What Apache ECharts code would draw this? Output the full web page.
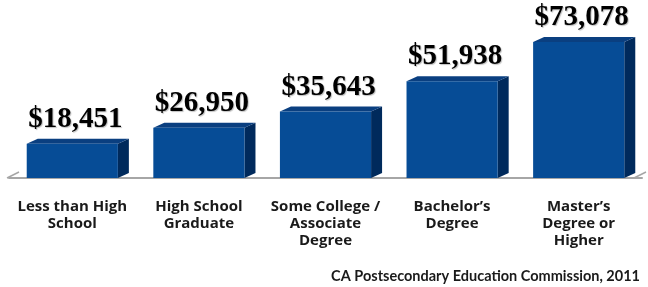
<!DOCTYPE html>
<html>
<head>
<meta charset="utf-8">
<script src="https://cdn.jsdelivr.net/npm/echarts@6/dist/echarts.min.js"></script>
<style>
  html, body { margin: 0; padding: 0; background: #fff; }
  #chart { width: 648px; height: 287px; }
</style>
</head>
<body>
<div id="chart"></div>
<script>
// education level -> median earnings
const categories = ['Less than High\nSchool', 'High School\nGraduate', 'Some College /\nAssociate\nDegree', 'Bachelor\u2019s\nDegree', 'Master\u2019s\nDegree or\nHigher'];
const earnings = [18451, 26950, 35643, 51938, 73078];
const sourceNote = 'CA Postsecondary Education Commission, 2011';

const chart = echarts.init(document.getElementById('chart'));

const depthX = 11, depthY = 5;

function fmtMoney(v) {
  return '$' + v.toLocaleString('en-US');
}

function renderBar(params, api) {
  const idx = api.value(0);
  const val = api.value(1);
  const top = api.coord([idx, val]);
  const base = api.coord([idx, 0]);
  const w = api.size([1, 0])[0] * 0.72;
  const x0 = top[0] - w / 2, x1 = top[0] + w / 2;
  const y0 = top[1], y1 = base[1];
  return {
    type: 'group',
    children: [
      { type: 'polygon', shape: { points: [[x1, y0], [x1 + depthX, y0 - depthY], [x1 + depthX, y1 - depthY], [x1, y1]] },
        style: { fill: '#002a5c' } },
      { type: 'polygon', shape: { points: [[x0, y0], [x0 + depthX, y0 - depthY], [x1 + depthX, y0 - depthY], [x1, y0]] },
        style: { fill: '#0a3f80' } },
      { type: 'rect', shape: { x: x0, y: y0, width: w, height: y1 - y0 },
        style: { fill: '#064c96' } },
      { type: 'text', x: top[0] + 3, y: y0 - depthY - 5,
        style: { text: fmtMoney(val), fill: '#000', font: 'bold 29px "Liberation Serif", serif',
                 align: 'center', verticalAlign: 'bottom', textShadowColor: 'rgba(0,0,0,0.25)', textShadowOffsetX: 1, textShadowOffsetY: 1, textShadowBlur: 1 } }
    ]
  };
}

const option = {
  animation: false,
  grid: { left: 9, right: 6, top: 29, bottom: 109 },
  xAxis: {
    type: 'category',
    data: categories,
    axisTick: { show: false },
    axisLine: { show: true, lineStyle: { color: '#a6a6a6', width: 2 } },
    axisLabel: { color: '#1a1a1a', fontFamily: '"Open Sans"', fontWeight: 'bold', fontSize: 15, lineHeight: 17, margin: 20, interval: 0 }
  },
  yAxis: { type: 'value', min: 0, max: 80000, show: false },
  series: [{
    type: 'custom',
    renderItem: renderBar,
    data: earnings.map((v, i) => [i, v]),
    z: 3
  }],
  graphic: [
    { type: 'line', shape: { x1: 7, y1: 178, x2: 19, y2: 172 }, style: { stroke: '#a6a6a6', lineWidth: 1.5 } },
    { type: 'line', shape: { x1: 634, y1: 178, x2: 646, y2: 172 }, style: { stroke: '#a6a6a6', lineWidth: 1.5 } },
    { type: 'text', right: 8, top: 269,
      style: { text: sourceNote, fill: '#1a1a1a', font: 'bold 14.5px Lato' } }
  ]
};

chart.setOption(option);
</script>
</body>
</html>
